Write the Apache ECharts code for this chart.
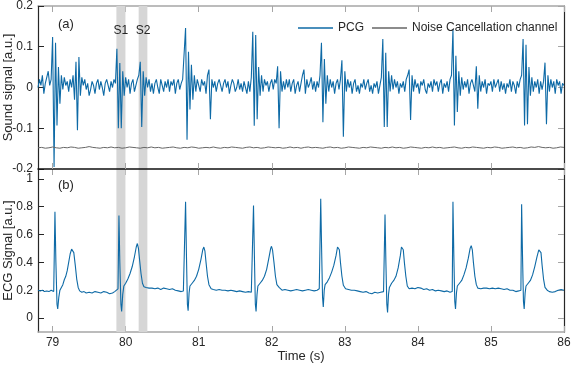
<!DOCTYPE html>
<html>
<head>
<meta charset="utf-8">
<script src="https://cdn.jsdelivr.net/npm/echarts@6/dist/echarts.min.js"></script>
<style>
  html, body { margin: 0; padding: 0; background: #fff; }
  #myChart { width: 572px; height: 366px; }
</style>
</head>
<body>
<div id="myChart"></div>
<script>
// x ticks (time, s)
var timeTicks = [79, 80, 81, 82, 83, 84, 85, 86];
var ecgTicks = [0, 0.2, 0.4, 0.6, 0.8, 1];

// shaded S1 / S2 windows
var bandNames = ['S1', 'S2'];
var bandStart = [79.873, 80.178];
var bandEnd = [79.997, 80.297];

// PCG, sampled every 0.02 s from 78.80 s
var pcgStart = 78.8;
var pcgStep = 0.02;
var pcgValues = [
  0.0, 0.02, 0.005, 0.03, -0.015, 0.01, 0.025, 0.04, 0.005, 0.02,
  0.124, -0.195, 0.11, -0.093, 0.05, -0.04, 0.03, -0.005, 0.025, 0.005,
  0.015, -0.01, 0.02, 0.0, 0.03, -0.03, 0.063, -0.105, 0.075, -0.02,
  0.025, 0.005, 0.02, -0.005, 0.01, -0.02, -0.005, 0.015, 0.005, -0.015,
  0.01, 0.02, -0.005, 0.015, 0.0, -0.02, 0.01, 0.02, 0.005, -0.01,
  0.015, 0.0, 0.02, 0.01, 0.095, -0.1, 0.06, -0.1, 0.04, -0.02,
  0.025, 0.0, 0.02, -0.015, 0.01, 0.02, -0.01, 0.005, 0.02, 0.03,
  0.063, -0.097, 0.04, -0.02, 0.025, 0.0, 0.02, -0.01, 0.01, -0.015,
  0.01, 0.02, 0.0, -0.015, 0.02, 0.005, -0.01, 0.015, 0.0, 0.02,
  -0.01, 0.015, 0.005, 0.02, -0.015, 0.01, 0.02, -0.005, 0.01, 0.02,
  0.02, 0.146, -0.128, 0.088, -0.054, 0.056, -0.03, 0.03, -0.01, 0.02,
  0.005, -0.01, 0.02, 0.005, 0.015, -0.015, 0.03, 0.044, -0.078, 0.02,
  0.0, 0.015, -0.01, 0.01, 0.02, 0.005, -0.01, 0.01, 0.02, 0.0,
  0.015, -0.015, 0.005, 0.02, 0.01, -0.01, 0.0, 0.02, -0.005, 0.01,
  -0.01, 0.015, 0.0, -0.015, 0.015, -0.01, 0.025, 0.137, -0.094, 0.129,
  -0.078, 0.05, -0.02, 0.03, -0.01, 0.02, 0.005, 0.015, -0.01, 0.01,
  0.02, -0.005, 0.02, 0.01, 0.052, -0.1, 0.04, -0.01, 0.015, -0.005,
  0.02, 0.0, 0.02, -0.01, 0.01, 0.02, -0.015, 0.005, 0.015, -0.01,
  0.01, 0.03, 0.044, -0.015, 0.02, 0.0, 0.01, 0.025, -0.005, 0.015,
  -0.01, 0.015, 0.0, 0.03, 0.11, -0.085, 0.07, -0.04, 0.03, -0.01,
  0.02, 0.0, 0.015, -0.015, 0.01, 0.02, -0.005, 0.02, 0.067, -0.121,
  0.04, -0.01, 0.02, 0.0, 0.015, -0.015, 0.01, 0.02, -0.01, 0.005,
  -0.015, 0.01, 0.0, 0.02, -0.005, 0.01, 0.02, -0.01, 0.005, -0.015,
  0.01, 0.0, 0.015, -0.015, 0.005, 0.025, 0.119, -0.097, 0.085, -0.097,
  0.04, -0.01, 0.03, -0.005, 0.02, 0.0, 0.015, -0.015, 0.01, 0.0,
  0.015, -0.01, 0.02, 0.03, 0.044, -0.08, 0.03, -0.01, 0.02, 0.0,
  0.01, -0.015, 0.015, 0.005, 0.02, -0.005, -0.015, 0.01, 0.0, 0.015,
  -0.01, 0.02, 0.005, 0.015, -0.01, 0.01, 0.02, -0.015, 0.01, 0.0,
  0.015, -0.01, 0.02, 0.03, 0.143, -0.093, 0.078, -0.06, 0.04, -0.02,
  0.025, -0.005, 0.015, 0.0, 0.02, -0.015, 0.01, 0.02, 0.005, -0.01,
  0.052, -0.052, 0.03, -0.01, 0.015, 0.0, 0.02, -0.015, 0.01, 0.005,
  0.015, -0.01, 0.02, 0.0, 0.01, 0.02, -0.01, 0.015, -0.005, 0.01,
  -0.015, 0.01, 0.0, 0.02, -0.01, 0.015, 0.005, -0.015, 0.015, 0.0,
  0.02, 0.03, 0.119, -0.093, 0.105, -0.09, 0.05, -0.02, 0.025, -0.01,
  0.015, 0.0, 0.02, -0.015, 0.015, -0.005, 0.015, 0.061, -0.09, 0.03,
  -0.01, 0.02, 0.0, 0.015, -0.015, 0.02, 0.005, 0.015, -0.015, 0.01,
  0.005
];

// noise cancellation channel, every 0.05 s from 78.80 s
var noiseStart = 78.8;
var noiseStep = 0.05;
var noiseValues = [
  -0.148, -0.147, -0.149, -0.148, -0.146, -0.148, -0.149, -0.147, -0.148, -0.146,
  -0.147, -0.149, -0.148, -0.147, -0.145, -0.147, -0.148, -0.149, -0.147, -0.148,
  -0.146, -0.148, -0.147, -0.149, -0.148, -0.146, -0.147, -0.148, -0.149, -0.147,
  -0.148, -0.146, -0.148, -0.147, -0.149, -0.148, -0.147, -0.146, -0.148, -0.149,
  -0.147, -0.148, -0.146, -0.147, -0.149, -0.148, -0.147, -0.148, -0.146, -0.148,
  -0.149, -0.147, -0.148, -0.146, -0.147, -0.148, -0.149, -0.147, -0.146, -0.148,
  -0.147, -0.149, -0.148, -0.146, -0.147, -0.148, -0.147, -0.149, -0.148, -0.146,
  -0.148, -0.147, -0.149, -0.147, -0.146, -0.148, -0.147, -0.148, -0.149, -0.147,
  -0.146, -0.148, -0.147, -0.149, -0.148, -0.146, -0.147, -0.148, -0.149, -0.147,
  -0.148, -0.146, -0.147, -0.148, -0.149, -0.147, -0.148, -0.146, -0.148, -0.147,
  -0.149, -0.148, -0.146, -0.147, -0.148, -0.149, -0.147, -0.148, -0.146, -0.148,
  -0.147, -0.149, -0.148, -0.147, -0.146, -0.148, -0.149, -0.147, -0.148, -0.146,
  -0.147, -0.148, -0.149, -0.147, -0.148, -0.146, -0.147, -0.149, -0.148, -0.147,
  -0.146, -0.148, -0.147, -0.149, -0.148, -0.146, -0.147, -0.145, -0.147, -0.148,
  -0.147, -0.149, -0.148, -0.146, -0.147
];

// ECG [time, value]
var ecgPoints = [
  [78.80,0.20],[78.83,0.195],[78.86,0.2],[78.89,0.19],[78.92,0.195],[78.95,0.19],[78.98,0.2],[79.00,0.195],[79.015,0.19],
  [79.025,0.2],[79.032,0.763],[79.045,0.4],[79.06,0.1],[79.07,0.065],[79.085,0.15],[79.10,0.2],[79.12,0.22],[79.14,0.24],[79.16,0.275],[79.18,0.3],[79.20,0.34],[79.22,0.4],[79.24,0.46],[79.26,0.495],[79.275,0.5],[79.29,0.47],[79.31,0.38],[79.33,0.28],[79.35,0.22],[79.37,0.195],[79.40,0.185],[79.43,0.19],[79.46,0.18],[79.50,0.185],[79.54,0.18],[79.58,0.19],[79.62,0.185],[79.66,0.18],[79.70,0.19],[79.74,0.185],[79.78,0.175],[79.82,0.18],[79.85,0.19],[79.875,0.2],[79.895,0.21],
  [79.903,0.21],[79.908,0.736],[79.92,0.4],[79.935,0.1],[79.945,0.048],[79.96,0.17],[79.975,0.23],[80.00,0.25],[80.03,0.28],[80.06,0.32],[80.09,0.37],[80.12,0.44],[80.145,0.51],[80.16,0.535],[80.175,0.5],[80.19,0.42],[80.21,0.32],[80.23,0.25],[80.25,0.225],[80.28,0.22],[80.32,0.215],[80.36,0.215],[80.40,0.21],[80.44,0.215],[80.48,0.205],[80.52,0.215],[80.56,0.21],[80.60,0.205],[80.64,0.21],[80.68,0.2],[80.72,0.195],[80.76,0.19],[80.79,0.195],[80.81,0.2],
  [80.815,0.2],[80.82,0.835],[80.832,0.45],[80.845,0.1],[80.855,0.053],[80.868,0.18],[80.88,0.23],[80.91,0.25],[80.94,0.27],[80.97,0.3],[81.00,0.35],[81.03,0.42],[81.055,0.49],[81.07,0.51],[81.085,0.48],[81.10,0.4],[81.12,0.3],[81.14,0.24],[81.17,0.21],[81.20,0.205],[81.24,0.2],[81.28,0.205],[81.32,0.2],[81.36,0.2],[81.40,0.195],[81.44,0.2],[81.48,0.195],[81.52,0.19],[81.56,0.195],[81.60,0.19],[81.64,0.185],[81.68,0.19],[81.72,0.185],[81.74,0.19],
  [81.745,0.19],[81.75,0.808],[81.762,0.45],[81.775,0.1],[81.785,0.048],[81.798,0.17],[81.81,0.23],[81.84,0.25],[81.87,0.27],[81.90,0.3],[81.93,0.35],[81.96,0.43],[81.985,0.5],[81.996,0.515],[82.01,0.49],[82.03,0.4],[82.05,0.3],[82.07,0.24],[82.10,0.22],[82.14,0.2],[82.18,0.205],[82.22,0.2],[82.26,0.195],[82.30,0.2],[82.34,0.205],[82.38,0.2],[82.42,0.195],[82.46,0.2],[82.50,0.205],[82.54,0.2],[82.58,0.195],[82.62,0.2],[82.65,0.21],
  [82.663,0.21],[82.67,0.856],[82.682,0.5],[82.695,0.15],[82.705,0.08],[82.718,0.2],[82.73,0.24],[82.76,0.26],[82.79,0.29],[82.82,0.33],[82.85,0.38],[82.88,0.45],[82.90,0.51],[82.91,0.52],[82.925,0.49],[82.94,0.4],[82.96,0.3],[82.98,0.235],[83.01,0.21],[83.05,0.205],[83.09,0.2],[83.13,0.2],[83.17,0.195],[83.21,0.19],[83.25,0.185],[83.29,0.19],[83.33,0.18],[83.37,0.175],[83.41,0.185],[83.45,0.18],[83.49,0.185],[83.53,0.19],[83.545,0.19],
  [83.55,0.743],[83.562,0.4],[83.575,0.1],[83.585,0.04],[83.598,0.17],[83.61,0.22],[83.64,0.25],[83.67,0.27],[83.70,0.3],[83.73,0.36],[83.76,0.45],[83.775,0.51],[83.785,0.52],[83.80,0.49],[83.815,0.4],[83.835,0.3],[83.855,0.23],[83.88,0.21],[83.92,0.215],[83.96,0.21],[84.00,0.22],[84.04,0.215],[84.08,0.205],[84.12,0.21],[84.16,0.2],[84.20,0.205],[84.24,0.195],[84.28,0.2],[84.32,0.195],[84.36,0.19],[84.40,0.195],[84.44,0.185],[84.47,0.19],
  [84.475,0.19],[84.48,0.835],[84.492,0.45],[84.505,0.12],[84.515,0.065],[84.528,0.18],[84.54,0.23],[84.57,0.25],[84.60,0.27],[84.63,0.31],[84.66,0.36],[84.69,0.43],[84.715,0.5],[84.73,0.52],[84.745,0.49],[84.76,0.4],[84.78,0.3],[84.80,0.24],[84.82,0.215],[84.86,0.21],[84.90,0.215],[84.94,0.215],[84.98,0.21],[85.02,0.215],[85.06,0.21],[85.10,0.215],[85.14,0.21],[85.18,0.205],[85.22,0.21],[85.26,0.2],[85.30,0.2],[85.34,0.19],[85.38,0.195],[85.41,0.2],
  [85.415,0.2],[85.42,0.817],[85.432,0.45],[85.445,0.12],[85.455,0.065],[85.468,0.18],[85.48,0.23],[85.51,0.25],[85.54,0.27],[85.57,0.31],[85.60,0.37],[85.63,0.44],[85.655,0.49],[85.67,0.5],[85.685,0.47],[85.70,0.38],[85.72,0.28],[85.74,0.22],[85.77,0.2],[85.80,0.19],[85.84,0.185],[85.88,0.19],[85.92,0.2],[85.96,0.205],[86.00,0.2]
];

var FONT = 'Liberation Sans, Arial, sans-serif';
var DARK = '#262626';
var GRAY = '#a6a6a6';
var BLUE = '#0e6aa6';

var pcgData = pcgValues.map(function (v, i) { return [pcgStart + i * pcgStep, v]; });
var noiseData = noiseValues.map(function (v, i) { return [noiseStart + i * noiseStep, v]; });

function bands(withLabel) {
  return bandNames.map(function (n, i) {
    return [{ name: withLabel ? n : '', xAxis: bandStart[i] }, { xAxis: bandEnd[i] }];
  });
}

function xAx(grid, pos, lineColor, lineWidth, labels) {
  return {
    type: 'value', gridIndex: grid, position: pos, min: 78.8, max: 86,
    axisLine: { show: true, onZero: false, lineStyle: { color: lineColor, width: lineWidth } },
    axisTick: { show: true, inside: true, length: 6, customValues: timeTicks, lineStyle: { color: GRAY } },
    axisLabel: { show: labels, customValues: timeTicks, color: DARK, fontSize: 12, fontFamily: FONT, margin: 5 },
    splitLine: { show: false }
  };
}

var myChart = echarts.init(document.getElementById('myChart'));

var xTop = xAx(0, 'bottom', '#111', 1.5, false);
xTop.z = 3;
var xBottom = xAx(1, 'bottom', GRAY, 1.5, true);
xBottom.name = 'Time (s)';
xBottom.nameLocation = 'middle';
xBottom.nameGap = 18;
xBottom.nameMoveOverlap = false;
xBottom.nameTextStyle = { color: DARK, fontSize: 13, fontFamily: FONT };

myChart.setOption({
  animation: false,
  grid: [
    { left: 38, right: 8, top: 6, height: 163, outerBoundsMode: 'none', containLabel: false },
    { left: 38, right: 8, top: 169, height: 163, outerBoundsMode: 'none', containLabel: false }
  ],
  legend: {
    left: 293, top: 17, itemWidth: 35, itemHeight: 1.3, itemGap: 8, icon: 'rect',
    textStyle: { color: DARK, fontSize: 12, fontFamily: FONT },
    data: ['PCG', 'Noise Cancellation channel']
  },
  graphic: [
    { type: 'text', left: 58, top: 18, style: { text: '(a)', fontSize: 13, fontFamily: FONT, fill: DARK } },
    { type: 'text', left: 58, top: 179, style: { text: '(b)', fontSize: 13, fontFamily: FONT, fill: DARK } }
  ],
  xAxis: [
    xTop,
    xAx(0, 'top', GRAY, 1.5, false),
    xBottom,
    xAx(1, 'top', 'transparent', 1, false)
  ],
  yAxis: [
    {
      type: 'value', gridIndex: 0, position: 'left', min: -0.2, max: 0.2, interval: 0.1,
      name: 'Sound signal [a.u.]', nameLocation: 'middle', nameGap: 23, nameMoveOverlap: false,
      nameTextStyle: { color: DARK, fontSize: 13, fontFamily: FONT },
      axisLine: { show: true, lineStyle: { color: DARK, width: 1.2 } },
      axisTick: { show: true, inside: true, length: 6, lineStyle: { color: DARK } },
      axisLabel: { color: DARK, fontSize: 12, fontFamily: FONT, margin: 5 },
      splitLine: { show: false }
    },
    {
      type: 'value', gridIndex: 0, position: 'right', min: -0.2, max: 0.2, interval: 0.1,
      axisLine: { show: true, lineStyle: { color: DARK, width: 1.2 } },
      axisTick: { show: true, inside: true, length: 6, lineStyle: { color: GRAY } },
      axisLabel: { show: false },
      splitLine: { show: false }
    },
    {
      type: 'value', gridIndex: 1, position: 'left', min: -0.1, max: 1.07,
      name: 'ECG Signal [a.u.]', nameLocation: 'middle', nameGap: 23, nameMoveOverlap: false,
      nameTextStyle: { color: DARK, fontSize: 13, fontFamily: FONT },
      axisLine: { show: true, lineStyle: { color: DARK, width: 1.2 } },
      axisTick: { show: true, inside: true, length: 6, customValues: ecgTicks, lineStyle: { color: DARK } },
      axisLabel: { color: DARK, fontSize: 12, fontFamily: FONT, margin: 5, customValues: ecgTicks },
      splitLine: { show: false }
    },
    {
      type: 'value', gridIndex: 1, position: 'right', min: -0.1, max: 1.07,
      axisLine: { show: true, lineStyle: { color: DARK, width: 1.2 } },
      axisTick: { show: true, inside: true, length: 6, customValues: ecgTicks, lineStyle: { color: GRAY } },
      axisLabel: { show: false },
      splitLine: { show: false }
    }
  ],
  series: [
    {
      name: 'PCG', type: 'line', xAxisIndex: 0, yAxisIndex: 0, data: pcgData,
      showSymbol: false, lineStyle: { color: BLUE, width: 1.1 }, itemStyle: { color: BLUE },
      markArea: {
        silent: true,
        itemStyle: { color: '#d6d6d6', opacity: 1 },
        label: { show: true, position: 'insideTop', distance: 19, color: DARK, fontSize: 12, fontFamily: FONT },
        data: bands(true)
      }
    },
    {
      name: 'Noise Cancellation channel', type: 'line', xAxisIndex: 0, yAxisIndex: 0, data: noiseData,
      showSymbol: false, lineStyle: { color: '#666', width: 1 }, itemStyle: { color: '#666' }
    },
    {
      name: 'ECG', type: 'line', xAxisIndex: 2, yAxisIndex: 2, data: ecgPoints,
      showSymbol: false, lineStyle: { color: BLUE, width: 1.1 }, itemStyle: { color: BLUE },
      markArea: {
        silent: true,
        itemStyle: { color: '#d6d6d6', opacity: 1 },
        data: bands(false)
      }
    }
  ]
});
</script>
</body>
</html>
